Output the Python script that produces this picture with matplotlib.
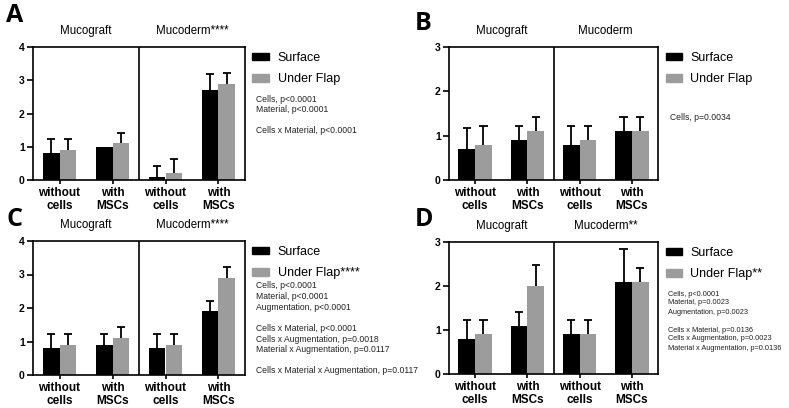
import matplotlib
matplotlib.use('Agg')
import matplotlib.pyplot as plt
from matplotlib.patches import Patch
from matplotlib.transforms import blended_transform_factory

plt.rcParams['font.family'] = ['Liberation Sans', 'DejaVu Sans']

groups = ['without\ncells', 'with\nMSCs', 'without\ncells', 'with\nMSCs']

# mean and upper error (SD) per panel, order: Mucograft w/o, w/, Mucoderm w/o, w/
a_surface = [0.8, 1.0, 0.08, 2.7]
a_surface_err = [0.42, 0.0, 0.34, 0.48]
a_flap = [0.9, 1.1, 0.2, 2.9]
a_flap_err = [0.32, 0.32, 0.42, 0.32]

b_surface = [0.7, 0.9, 0.8, 1.1]
b_surface_err = [0.48, 0.32, 0.42, 0.32]
b_flap = [0.8, 1.1, 0.9, 1.1]
b_flap_err = [0.42, 0.32, 0.32, 0.32]

c_surface = [0.8, 0.9, 0.8, 1.9]
c_surface_err = [0.42, 0.32, 0.42, 0.32]
c_flap = [0.9, 1.1, 0.9, 2.9]
c_flap_err = [0.32, 0.32, 0.32, 0.32]

d_surface = [0.8, 1.1, 0.9, 2.1]
d_surface_err = [0.42, 0.32, 0.32, 0.74]
d_flap = [0.9, 2.0, 0.9, 2.1]
d_flap_err = [0.32, 0.47, 0.32, 0.32]

a_stats = ['Cells, p<0.0001', 'Material, p<0.0001', '', 'Cells x Material, p<0.0001']
b_stats = ['Cells, p=0.0034']
c_stats = ['Cells, p<0.0001', 'Material, p<0.0001', 'Augmentation, p<0.0001', '',
           'Cells x Material, p<0.0001', 'Cells x Augmentation, p=0.0018',
           'Material x Augmentation, p=0.0117', '',
           'Cells x Material x Augmentation, p=0.0117']
d_stats = ['Cells, p<0.0001', 'Material, p=0.0023', 'Augmentation, p=0.0023', '',
           'Cells x Material, p=0.0136', 'Cells x Augmentation, p=0.0023',
           'Material x Augmentation, p=0.0136']

W, H = 789, 408
GREY = '#9c9c9c'
fig = plt.figure(figsize=(W / 100, H / 100), dpi=100)


def px_axes(left, top, right, bottom):
  return fig.add_axes([left / W, 1 - bottom / H, (right - left) / W, (bottom - top) / H])


def up_errors(ax, xpos, vals, errs, cap=0.08):
  # only the upper half of the SD, with a cap, like Prism draws it
  for xi, v, e in zip(xpos, vals, errs):
    if e <= 0:
      continue
    ax.vlines(xi, v, v + e, color='black', lw=1.3, zorder=3)
    ax.hlines(v + e, xi - cap, xi + cap, color='black', lw=1.3, zorder=3)


def panel(box, letter, letter_xy, surf, surf_err, flap, flap_err, ymax,
          titles, labels, stats, stats_xy, stats_size, stats_step):
  ax = px_axes(*box)
  x = list(range(len(groups)))
  w = 0.32
  xs = [i - w / 2 for i in x]
  xf = [i + w / 2 for i in x]
  ax.bar(xs, surf, w, color='black', zorder=2)
  ax.bar(xf, flap, w, color=GREY, zorder=2)
  up_errors(ax, xs, surf, surf_err)
  up_errors(ax, xf, flap, flap_err)
  ax.axvline(1.5, color='black', lw=1.2)
  ax.set_xlim(-0.5, 3.5)
  ax.set_ylim(0, ymax)
  ax.set_yticks(range(ymax + 1))
  ax.set_xticks(x)
  ax.set_xticklabels(groups, fontweight='bold', fontsize=8.5, linespacing=1.1)
  ax.tick_params(axis='y', length=4, width=1.2, labelsize=7.5, pad=2)
  ax.tick_params(axis='x', length=3, width=1.2, pad=2)
  for t in ax.get_yticklabels():
    t.set_fontweight('bold')
  for s in ax.spines.values():
    s.set_linewidth(1.2)
  tr = blended_transform_factory(ax.transData, ax.transAxes)
  ax.text(0.5, 1.12, titles[0], transform=tr, ha='center', va='center', fontsize=8.3)
  ax.text(2.5, 1.12, titles[1], transform=tr, ha='center', va='center', fontsize=8.3)
  fig.text(letter_xy[0] / W, 1 - letter_xy[1] / H, letter, fontsize=18,
           fontweight='bold', family='Open Sans', ha='left', va='center')
  handles = [Patch(color='black'), Patch(color=GREY)]
  ax.legend(handles, labels, loc='upper left', bbox_to_anchor=(1.0, 1.02),
            frameon=False, fontsize=9, handlelength=1.3, handleheight=0.55,
            labelspacing=0.75, handletextpad=0.7, borderaxespad=0.2)
  for i, line in enumerate(stats):
    fig.text(stats_xy[0] / W, 1 - (stats_xy[1] + i * stats_step) / H, line,
             fontsize=stats_size, ha='left', va='center', color='#222222')
  return ax


panel((33, 47, 245, 180), 'A', (6, 16), a_surface, a_surface_err, a_flap, a_flap_err, 4,
      ['Mucograft', 'Mucoderm****'], ['Surface', 'Under Flap'],
      a_stats, (256, 99), 6.2, 10.5)
panel((449, 47, 658, 180), 'B', (415, 24), b_surface, b_surface_err, b_flap, b_flap_err, 3,
      ['Mucograft', 'Mucoderm'], ['Surface', 'Under Flap'],
      b_stats, (670, 117), 6.2, 10.5)
panel((33, 241, 245, 375), 'C', (6, 220), c_surface, c_surface_err, c_flap, c_flap_err, 4,
      ['Mucograft', 'Mucoderm****'], ['Surface', 'Under Flap****'],
      c_stats, (256, 286), 6.2, 10.6)
panel((449, 242, 658, 374), 'D', (415, 220), d_surface, d_surface_err, d_flap, d_flap_err, 3,
      ['Mucograft', 'Mucoderm**'], ['Surface', 'Under Flap**'],
      d_stats, (668, 294), 5.3, 9.0)

fig.savefig('out.png', dpi=100)
